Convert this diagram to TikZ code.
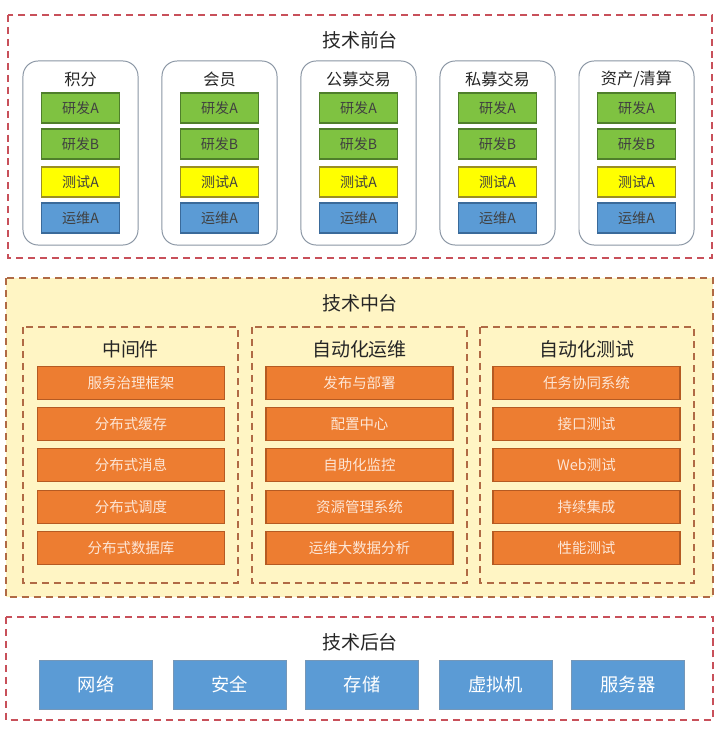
\documentclass[tikz,border=0pt]{standalone}
\usepackage{fontspec}
\setmainfont{Noto Sans CJK SC}
\usepackage{tikz}

\definecolor{redline}{HTML}{C8505A}
\definecolor{brownline}{HTML}{B06A45}
\definecolor{midfill}{HTML}{FFF5C4}
\definecolor{greenfill}{HTML}{7FC241}
\definecolor{greenline}{HTML}{4F7F2B}
\definecolor{yellowfill}{HTML}{FFFF00}
\definecolor{yellowline}{HTML}{9A8F22}
\definecolor{bluefill}{HTML}{5B9BD5}
\definecolor{blueline}{HTML}{3A6A9A}
\definecolor{orangefill}{HTML}{ED7D31}
\definecolor{orangeline}{HTML}{B55A22}
\definecolor{orangetext}{HTML}{FDE6D6}
\definecolor{grayline}{HTML}{8A96A4}

\begin{document}
\begin{tikzpicture}[x=0.025cm, y=-0.025cm,
    layer/.style={draw=redline, line width=1pt, dash pattern=on 5pt off 3.5pt},
    group/.style={draw=brownline, line width=1pt, dash pattern=on 5pt off 3.5pt},
    title/.style={font=\fontsize{13.5}{16}\selectfont, text=black!85},
    coltitle/.style={font=\fontsize{11.5}{14}\selectfont, text=black!85},
    column/.style={draw=grayline, fill=white, rounded corners=0.38cm, line width=0.7pt,
        minimum width=2.875cm, minimum height=4.6cm},
    team/.style={draw, line width=0.8pt, minimum width=1.95cm, minimum height=0.75cm,
        inner sep=0pt, font=\fontsize{10}{12}\selectfont, text=black!75},
    dev/.style={team, fill=greenfill, draw=greenline},
    test/.style={team, fill=yellowfill, draw=yellowline},
    ops/.style={team, fill=bluefill, draw=blueline},
    service/.style={draw=orangeline, fill=orangefill, line width=0.8pt,
        minimum width=4.675cm, minimum height=0.825cm, inner sep=0pt,
        font=\fontsize{10.3}{12}\selectfont, text=orangetext},
    infra/.style={draw=blueline!70, fill=bluefill, line width=0.6pt,
        minimum width=2.825cm, minimum height=1.225cm, inner sep=0pt,
        font=\fontsize{13}{15}\selectfont, text=white}]
    \useasboundingbox[fill=white] (0,0) rectangle (720,736);

    % Front layer
    \draw[layer] (8,15) rectangle (712,258);
    \node[title] (front) at (360,40) {技术前台};
    \node[column] (col1) at (80.5,153) {};
    \node[column] (col2) at (219.5,153) {};
    \node[column] (col3) at (358.5,153) {};
    \node[column] (col4) at (497.5,153) {};
    \node[column] (col5) at (636.5,153) {};
    \node[coltitle] (jifen) at (80.5,79) {积分};
    \node[coltitle] (huiyuan) at (219.5,79) {会员};
    \node[coltitle] (gongmu) at (358.5,79) {公募交易};
    \node[coltitle] (simu) at (497.5,79) {私募交易};
    \node[coltitle] (zichan) at (636.5,79) {资产/清算};
    \node[dev] (jifenA) at (80.5,108) {研发A};
    \node[dev] (jifenB) at (80.5,144) {研发B};
    \node[test] (jifenT) at (80.5,182) {测试A};
    \node[ops] (jifenO) at (80.5,218) {运维A};
    \node[dev] (huiyuanA) at (219.5,108) {研发A};
    \node[dev] (huiyuanB) at (219.5,144) {研发B};
    \node[test] (huiyuanT) at (219.5,182) {测试A};
    \node[ops] (huiyuanO) at (219.5,218) {运维A};
    \node[dev] (gongmuA) at (358.5,108) {研发A};
    \node[dev] (gongmuB) at (358.5,144) {研发B};
    \node[test] (gongmuT) at (358.5,182) {测试A};
    \node[ops] (gongmuO) at (358.5,218) {运维A};
    \node[dev] (simuA) at (497.5,108) {研发A};
    \node[dev] (simuB) at (497.5,144) {研发B};
    \node[test] (simuT) at (497.5,182) {测试A};
    \node[ops] (simuO) at (497.5,218) {运维A};
    \node[dev] (zichanA) at (636.5,108) {研发A};
    \node[dev] (zichanB) at (636.5,144) {研发B};
    \node[test] (zichanT) at (636.5,182) {测试A};
    \node[ops] (zichanO) at (636.5,218) {运维A};

    % Middle layer
    \draw[group, draw=brownline, fill=midfill] (6,278) rectangle (713,597);
    \node[title] (middle) at (360,303) {技术中台};
    \draw[group] (23,327) rectangle (238,583);
    \draw[group] (252,327) rectangle (467,583);
    \draw[group] (480,327) rectangle (694,583);
    \node[title] (mw) at (130.5,349) {中间件};
    \node[title] (autoops) at (359.5,349) {自动化运维};
    \node[title] (autotest) at (587,349) {自动化测试};
    \node[service] (mw1) at (131,383) {服务治理框架};
    \node[service] (mw2) at (131,424) {分布式缓存};
    \node[service] (mw3) at (131,465) {分布式消息};
    \node[service] (mw4) at (131,507) {分布式调度};
    \node[service] (mw5) at (131,548) {分布式数据库};
    \node[service] (ops1) at (359.5,383) {发布与部署};
    \node[service] (ops2) at (359.5,424) {配置中心};
    \node[service] (ops3) at (359.5,465) {自助化监控};
    \node[service] (ops4) at (359.5,507) {资源管理系统};
    \node[service] (ops5) at (359.5,548) {运维大数据分析};
    \node[service] (test1) at (586.5,383) {任务协同系统};
    \node[service] (test2) at (586.5,424) {接口测试};
    \node[service] (test3) at (586.5,465) {Web测试};
    \node[service] (test4) at (586.5,507) {持续集成};
    \node[service] (test5) at (586.5,548) {性能测试};

    % Back layer
    \draw[layer] (6,617) rectangle (713,720);
    \node[title] (back) at (360,642) {技术后台};
    \node[infra] (net) at (96,684.5) {网络};
    \node[infra] (sec) at (229.5,684.5) {安全};
    \node[infra] (store) at (362,684.5) {存储};
    \node[infra] (vm) at (495.5,684.5) {虚拟机};
    \node[infra] (server) at (628,684.5) {服务器};
\end{tikzpicture}
\end{document}
